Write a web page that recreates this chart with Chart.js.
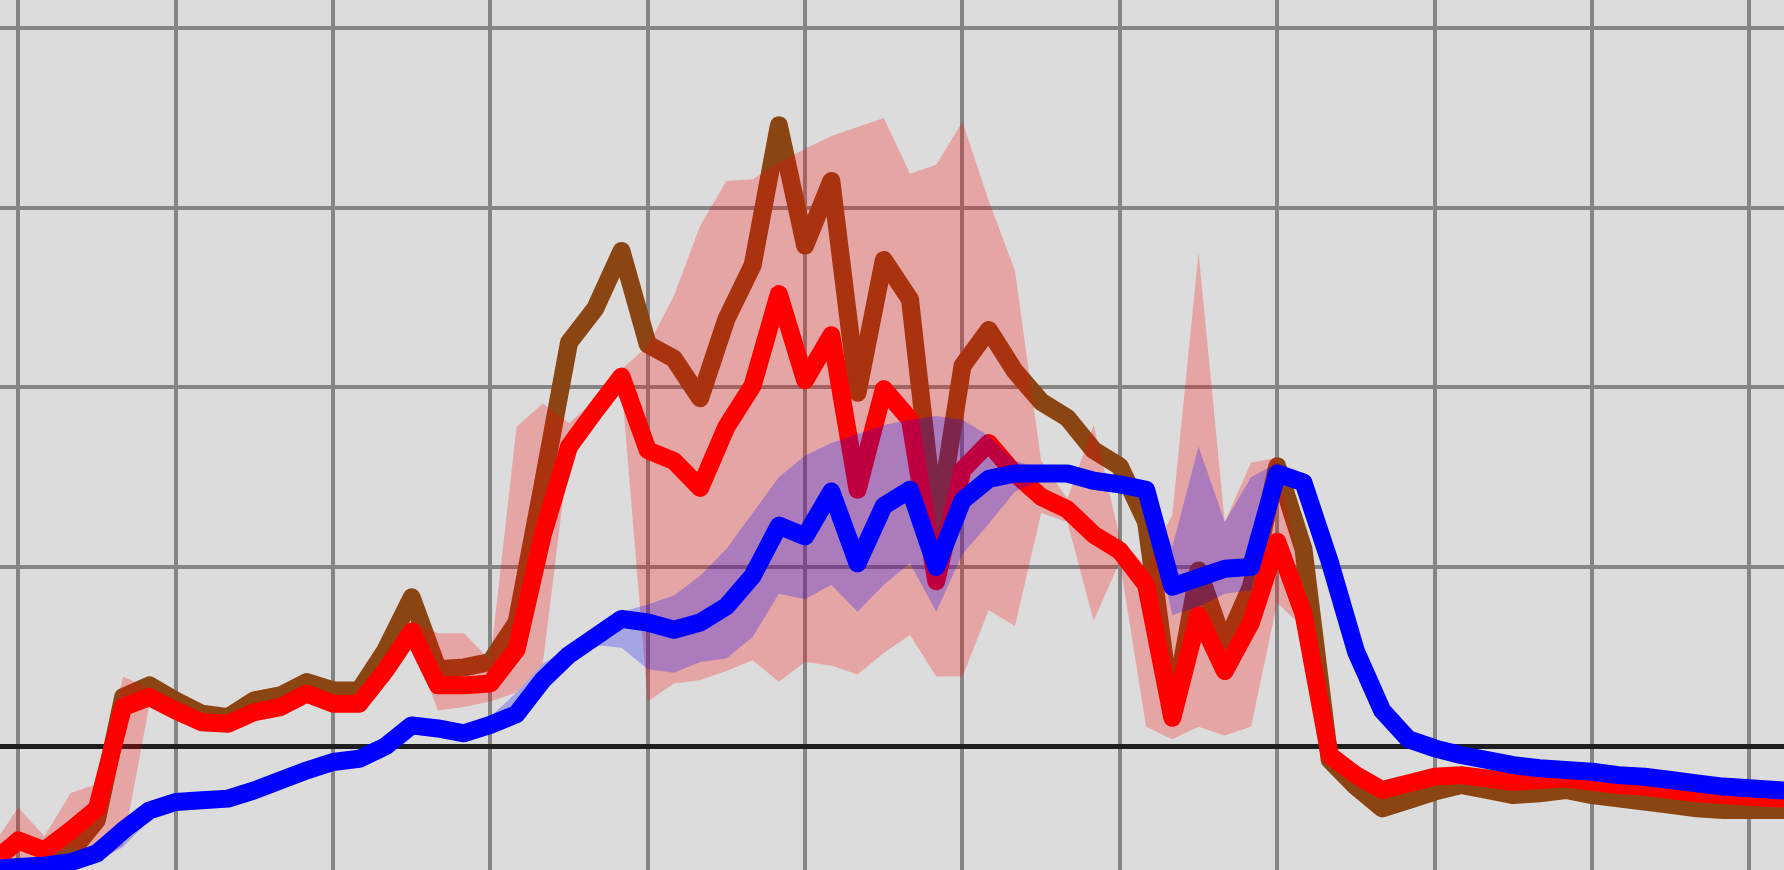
<!DOCTYPE html>
<html><head><meta charset="utf-8">
<script src="https://cdn.jsdelivr.net/npm/chart.js@4.4.1/dist/chart.umd.min.js"></script>
<style>html,body{margin:0;padding:0;background:#dcdcdc;overflow:hidden}canvas{display:block}</style>
</head><body>
<canvas id="c" width="1784" height="870"></canvas>
<script>
const steps = [-1,0,1,2,3,4,5,6,7,8,9,10,11,12,13,14,15,16,17,18,19,20,21,22,23,24,25,26,27,28,29,30,31,32,33,34,35,36,37,38,39,40,41,42,43,44,45,46,47,48,49,50,51,52,53,54,55,56,57,58,59,60,61,62,63,64,65,66,67,68];

const brown = [-8.6,-8.0,-6.9,-5.9,-4.1,2.75,3.4,2.56,1.82,1.63,
  2.56,2.84,3.58,3.12,3.12,5.35,8.3,4.3,4.4,4.7,
  6.9,14.6,22.5,24.4,27.6,22.4,21.6,19.4,23.8,26.8,
  34.6,27.9,31.5,19.7,27.1,24.9,11.9,21.2,23.2,20.9,
  19.2,18.3,16.5,15.6,12.5,1.7,9.8,5.6,8.9,15.6,
  11.0,-0.76,-2.24,-3.45,-2.99,-2.52,-2.15,-2.43,-2.71,-2.61,
  -2.43,-2.71,-2.89,-3.08,-3.26,-3.45,-3.54,-3.54,-3.54,-3.55];

const red = [-6.5,-5.24,-5.79,-4.68,-3.47,2.19,2.75,2.0,1.35,1.26,
  1.91,2.19,2.94,2.38,2.38,4.23,6.4,3.4,3.4,3.5,
  5.4,11.8,16.7,18.7,20.6,16.5,15.9,14.4,17.8,20.1,
  25.2,20.4,22.9,14.3,19.9,18.2,9.2,15.4,16.9,15.2,
  13.9,13.2,11.8,10.9,9.0,1.6,7.3,4.2,6.9,11.4,
  7.4,-0.5,-1.6,-2.43,-2.06,-1.69,-1.6,-1.78,-1.97,-1.87,
  -1.78,-1.97,-2.15,-2.24,-2.43,-2.61,-2.71,-2.8,-2.89,-2.95];

const blue = [-6.85,-6.72,-6.63,-6.45,-5.96,-4.68,-3.57,-3.1,-3.0,-2.91,
  -2.45,-1.89,-1.34,-0.87,-0.69,0.0,1.17,1.0,0.73,1.2,
  1.8,3.7,5.1,6.1,7.1,6.9,6.5,6.9,7.8,9.5,
  12.3,11.7,14.2,10.2,13.4,14.3,10.0,13.7,14.9,15.2,
  15.2,15.2,14.8,14.6,14.3,8.9,9.4,9.9,10.0,15.2,
  14.7,10.3,5.3,2.0,0.4,-0.11,-0.48,-0.76,-1.04,-1.22,
  -1.31,-1.41,-1.6,-1.69,-1.87,-2.06,-2.24,-2.33,-2.43,-2.5];

const redLow = [-7.2,-6.7,-6.4,-5.6,-6.5,-5.5,2.3,1.6,1.0,0.9,
  1.5,1.8,2.5,2.0,2.0,3.8,6.0,2.0,2.2,2.5,
  3.0,4.6,16.5,18.3,20.2,2.5,3.5,3.7,4.2,4.8,
  3.6,4.7,4.5,4.0,5.2,6.2,3.9,3.9,7.6,6.7,
  13.0,12.5,7.0,10.3,1.1,0.4,1.1,0.6,1.1,8.0,
  6.6,-1.2,-2.0,-2.78,-2.41,-2.04,-1.95,-2.13,-2.32,-2.22,
  -2.13,-2.32,-2.5,-2.59,-2.78,-2.96,-3.06,-3.15,-3.24,-3.3];

const redHigh = [-5.6,-3.4,-5.0,-2.6,-2.1,3.9,3.2,2.4,1.8,1.7,
  2.3,2.6,3.3,2.8,2.8,4.8,7.0,6.3,6.3,4.8,
  17.8,19.1,18.0,19.3,21.0,22.3,25.1,29.0,31.5,31.6,
  32.5,33.3,34.0,34.5,35.0,31.9,32.4,34.8,30.4,26.5,
  15.9,13.8,17.9,11.6,10.0,12.9,27.5,12.5,15.8,16.1,
  8.4,0.3,-1.2,-2.08,-1.71,-1.34,-1.25,-1.43,-1.62,-1.52,
  -1.43,-1.62,-1.8,-1.89,-2.08,-2.26,-2.36,-2.45,-2.54,-2.6];

const blueLow = [-7.3,-7.2,-7.1,-6.9,-6.4,-5.6,-4.1,-3.55,-3.45,-3.36,
  -2.9,-2.34,-1.79,-1.32,-1.14,-0.45,0.72,0.55,0.28,0.75,
  1.3,3.2,4.65,5.65,5.5,4.3,4.1,4.7,4.9,6.1,
  8.5,8.2,9.0,7.5,9.0,10.2,7.5,10.7,12.4,14.2,
  14.8,14.7,14.3,14.1,13.9,7.3,7.8,8.5,8.7,14.7,
  14.2,9.8,4.8,1.5,-0.05,-0.56,-0.93,-1.21,-1.49,-1.67,
  -1.76,-1.86,-2.05,-2.14,-2.32,-2.51,-2.69,-2.78,-2.88,-2.95];

const blueHigh = [-6.4,-6.3,-6.2,-6.0,-5.4,-4.2,-3.1,-2.65,-2.55,-2.46,
  -2.0,-1.44,-0.89,-0.42,-0.24,0.45,1.62,1.45,1.18,1.65,
  3.0,4.6,5.55,6.55,7.5,7.9,8.4,9.5,11.0,13.0,
  15.0,16.2,16.9,17.4,17.9,18.2,18.4,18.2,17.3,15.9,
  15.5,15.6,15.2,15.0,14.7,11.1,16.7,12.5,15.0,15.8,
  15.2,10.9,5.9,2.5,0.85,0.34,-0.03,-0.31,-0.59,-0.77,
  -0.86,-0.96,-1.15,-1.24,-1.42,-1.61,-1.79,-1.88,-1.98,-2.05];

const xGridTicks = [0,6,12,18,24,30,36,42,48,54,60,66];
const yGridTicks = [0,10,20,30,40];

const pts = arr => arr.map((v, i) => ({x: steps[i], y: v}));

const bgPlugin = {
  id: 'bg',
  beforeDraw(chart) {
    const c = chart.ctx;
    c.save();
    c.fillStyle = '#dcdcdc';
    c.fillRect(0, 0, chart.width, chart.height);
    c.restore();
  }
};

const lineStyle = (color, order) => ({
  borderColor: color, borderWidth: 18, fill: false, order: order,
  borderJoinStyle: 'round', borderCapStyle: 'round'
});
const bandEdge = (order, fillColor, fillTo) => ({
  borderColor: 'transparent', borderWidth: 0, order: order,
  backgroundColor: fillColor || 'transparent', fill: fillTo === undefined ? false : fillTo
});

new Chart(document.getElementById('c'), {
  type: 'line',
  data: {
    datasets: [
      Object.assign({label: 'blue', data: pts(blue)}, lineStyle('#0000ff', 1)),
      Object.assign({label: 'blueHigh', data: pts(blueHigh)}, bandEdge(2, 'rgba(0,0,255,0.25)', '+1')),
      Object.assign({label: 'blueLow', data: pts(blueLow)}, bandEdge(2)),
      Object.assign({label: 'redHigh', data: pts(redHigh)}, bandEdge(3, 'rgba(255,0,0,0.25)', '+1')),
      Object.assign({label: 'redLow', data: pts(redLow)}, bandEdge(3)),
      Object.assign({label: 'red', data: pts(red)}, lineStyle('#ff0000', 4)),
      Object.assign({label: 'brown', data: pts(brown)}, lineStyle('#8b4513', 5))
    ]
  },
  options: {
    responsive: false,
    animation: false,
    devicePixelRatio: 1,
    events: [],
    layout: {padding: 0},
    elements: {point: {radius: 0, hoverRadius: 0}, line: {tension: 0}},
    plugins: {legend: {display: false}, tooltip: {enabled: false}, filler: {drawTime: 'beforeDatasetDraw'}},
    scales: {
      x: {
        type: 'linear', min: -0.694, max: 67.32,
        ticks: {display: false}, border: {display: false},
        grid: {color: '#858585', lineWidth: 4, drawTicks: false},
        afterBuildTicks: s => { s.ticks = xGridTicks.map(v => ({value: v})); }
      },
      y: {
        type: 'linear', min: -6.886, max: 41.58,
        ticks: {display: false}, border: {display: false},
        grid: {
          color: ctx => (ctx.tick && ctx.tick.value === 0) ? '#1e1e1e' : '#858585',
          lineWidth: ctx => (ctx.tick && ctx.tick.value === 0) ? 5 : 4,
          drawTicks: false
        },
        afterBuildTicks: s => { s.ticks = yGridTicks.map(v => ({value: v})); }
      }
    }
  },
  plugins: [bgPlugin]
});
</script>
</body></html>
